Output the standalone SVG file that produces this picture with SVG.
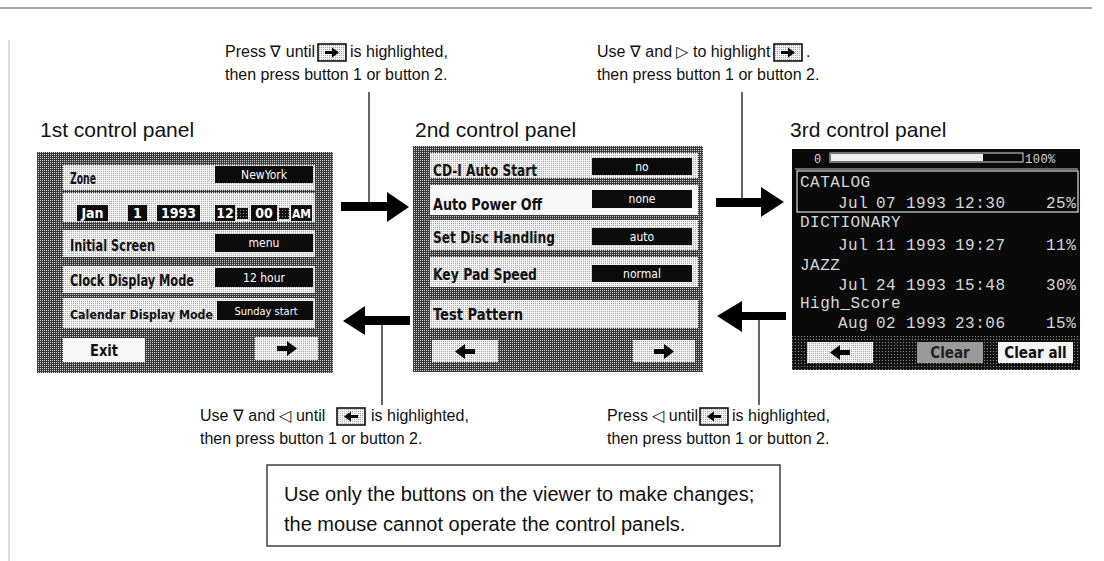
<svg xmlns="http://www.w3.org/2000/svg" width="1104" height="561" viewBox="0 0 1104 561">
<defs>
<pattern id="ht" width="2" height="2" patternUnits="userSpaceOnUse">
<rect width="2" height="2" fill="#3a3a3a"/>
<rect width="1" height="1" fill="#cfcfcf"/>
</pattern>
<pattern id="lt" width="2" height="2" patternUnits="userSpaceOnUse">
<rect width="2" height="2" fill="#f3f3f3"/>
<rect x="1" y="1" width="1" height="1" fill="#a8a8a8"/>
</pattern>
<pattern id="dk" width="3" height="3" patternUnits="userSpaceOnUse">
<rect width="3" height="3" fill="#141414"/>
<rect width="1" height="1" fill="#8a8a8a"/>
</pattern>
<g id="icoR">
<rect x="0" y="0" width="28" height="17" fill="url(#lt)" stroke="#000" stroke-width="1.5"/>
<polygon points="7,7 14,7 14,3.5 21,8.5 14,13.5 14,10 7,10" fill="#000"/>
</g>
<g id="icoL">
<rect x="0" y="0" width="28" height="17" fill="url(#lt)" stroke="#000" stroke-width="1.5"/>
<polygon points="21,7 14,7 14,3.5 7,8.5 14,13.5 14,10 21,10" fill="#000"/>
</g>
</defs>
<style>
.t{font-family:"Liberation Sans",Arial,sans-serif;font-size:16px;fill:#111}
.lbl{font-family:"Liberation Sans",Arial,sans-serif;font-size:21px;fill:#111}
.bx{font-family:"Liberation Sans",Arial,sans-serif;font-size:20px;fill:#111}
.pt{font-family:"DejaVu Sans Condensed","Liberation Sans",sans-serif;font-weight:bold;font-size:15px;fill:#111}
.pv{font-family:"DejaVu Sans Condensed","Liberation Sans",sans-serif;font-size:12px;fill:#fff;text-anchor:middle}
.pd{font-family:"DejaVu Sans Condensed","Liberation Sans",sans-serif;font-weight:bold;font-size:14px;fill:#fff;text-anchor:middle}
.mono{font-family:"Liberation Mono","DejaVu Sans Mono",monospace;font-size:16px;fill:#d8d8d8;letter-spacing:0.5px}
.ln{stroke:#111;stroke-width:1.3;fill:none}
.bar{fill:url(#lt)}
.val{fill:#0c0c0c}
.btn{fill:url(#lt)}
</style>

<line x1="0" y1="8" x2="1092" y2="8" stroke="#555" stroke-width="1"/>
<line x1="9" y1="40" x2="9" y2="561" stroke="#bbb" stroke-width="1"/>

<g id="note-top-left">
<text class="t" x="225" y="57">Press ∇ until</text>
<use href="#icoR" x="318" y="44"/>
<text class="t" x="350" y="57">is highlighted,</text>
<text class="t" x="225" y="80">then press button 1 or button 2.</text>
</g>

<g id="note-top-right">
<text class="t" x="597" y="57">Use ∇ and ▷ to highlight</text>
<use href="#icoR" x="774" y="44"/>
<text class="t" x="806" y="57">.</text>
<text class="t" x="597" y="80">then press button 1 or button 2.</text>
</g>

<g id="panel1">
<text class="lbl" x="40" y="137">1st control panel</text>
<rect x="37" y="152" width="296" height="221" fill="url(#ht)"/>
<rect class="bar" x="63" y="165" width="252" height="25"/>
<text class="pt" x="70" y="184" textLength="26" lengthAdjust="spacingAndGlyphs">Zone</text>
<rect class="val" x="215" y="166" width="98" height="17"/>
<text class="pv" x="264" y="179">NewYork</text>
<rect class="bar" x="63" y="193" width="252" height="29"/>
<rect class="val" x="77" y="205" width="31" height="16"/>
<text class="pd" x="92.5" y="218">Jan</text>
<rect class="val" x="128" y="205" width="19" height="16"/>
<text class="pd" x="137.5" y="218">1</text>
<rect class="val" x="157" y="205" width="43" height="16"/>
<text class="pd" x="178.5" y="218">1993</text>
<rect class="val" x="215" y="205" width="20" height="16"/>
<text class="pd" x="225" y="218">12</text>
<rect x="237" y="208" width="11" height="11" fill="url(#dk)"/>
<rect class="val" x="251" y="205" width="26" height="16"/>
<text class="pd" x="264" y="218">00</text>
<rect x="279" y="208" width="10" height="11" fill="url(#dk)"/>
<rect class="val" x="291" y="205" width="21" height="16"/>
<text class="pd" x="301.5" y="218" style="font-size:12px">AM</text>
<rect class="bar" x="63" y="230" width="252" height="27"/>
<text class="pt" x="70" y="251" textLength="85" lengthAdjust="spacingAndGlyphs">Initial Screen</text>
<rect class="val" x="215" y="234" width="98" height="18"/>
<text class="pv" x="264" y="247">menu</text>
<rect class="bar" x="63" y="266" width="252" height="27"/>
<text class="pt" x="70" y="286" textLength="124" lengthAdjust="spacingAndGlyphs">Clock Display Mode</text>
<rect class="val" x="215" y="268" width="98" height="19"/>
<text class="pv" x="264" y="282">12 hour</text>
<rect class="bar" x="63" y="298" width="252" height="30"/>
<text class="pt" x="70" y="319" style="font-size:13px" textLength="143" lengthAdjust="spacingAndGlyphs">Calendar Display Mode</text>
<rect class="val" x="217" y="301" width="96" height="19"/>
<text class="pv" x="266" y="315" style="font-size:11px">Sunday start</text>
<rect x="63" y="338" width="82" height="24" fill="#f6f6f6"/>
<text class="pt" x="90" y="356" textLength="28" lengthAdjust="spacingAndGlyphs">Exit</text>
<rect class="btn" x="255" y="337" width="63" height="23"/>
<polygon points="277,346 287,346 287,341 297,348.5 287,356 287,351 277,351" fill="#000"/>
</g>

<g id="panel2">
<text class="lbl" x="415" y="137">2nd control panel</text>
<rect x="413" y="146" width="290" height="226" fill="url(#ht)"/>
<rect class="bar" x="430" y="153" width="268" height="25"/>
<text class="pt" x="433" y="176" textLength="104" lengthAdjust="spacingAndGlyphs">CD-I Auto Start</text>
<rect class="val" x="592" y="158" width="100" height="17"/>
<text class="pv" x="642" y="171">no</text>
<rect x="430" y="185" width="268" height="30" fill="#f7f7f7"/>
<text class="pt" x="433" y="210" textLength="109" lengthAdjust="spacingAndGlyphs">Auto Power Off</text>
<rect class="val" x="592" y="190" width="100" height="18"/>
<text class="pv" x="642" y="203">none</text>
<rect class="bar" x="430" y="220" width="268" height="30"/>
<text class="pt" x="433" y="243" textLength="122" lengthAdjust="spacingAndGlyphs">Set Disc Handling</text>
<rect class="val" x="592" y="228" width="100" height="17"/>
<text class="pv" x="642" y="241">auto</text>
<rect class="bar" x="430" y="257" width="268" height="30"/>
<text class="pt" x="433" y="280" textLength="104" lengthAdjust="spacingAndGlyphs">Key Pad Speed</text>
<rect class="val" x="592" y="265" width="100" height="17"/>
<text class="pv" x="642" y="278">normal</text>
<rect class="bar" x="430" y="300" width="268" height="28"/>
<text class="pt" x="433" y="320" textLength="90" lengthAdjust="spacingAndGlyphs">Test Pattern</text>
<rect class="btn" x="432" y="340" width="66" height="22"/>
<polygon points="475,349 465,349 465,344 455,351.5 465,359 465,354 475,354" fill="#000"/>
<rect class="btn" x="633" y="340" width="62" height="22"/>
<polygon points="654,349 664,349 664,344 674,351.5 664,359 664,354 654,354" fill="#000"/>
</g>

<g id="panel3">
<text class="lbl" x="790" y="137">3rd control panel</text>
<rect x="792" y="149" width="288" height="221" fill="#0a0a0a"/>
<rect x="792" y="336" width="288" height="34" fill="url(#dk)"/>
<text class="mono" x="814" y="163" style="font-size:12px">0</text>
<rect x="830" y="153" width="193" height="9" fill="none" stroke="#ddd" stroke-width="1"/>
<rect x="831" y="154" width="152" height="7" fill="#eee"/>
<text class="mono" x="1025" y="163" style="font-size:12px">100%</text>
<line x1="795" y1="169" x2="1078" y2="169" stroke="#ccc" stroke-width="1.2"/>
<rect x="797" y="171" width="281" height="41" fill="none" stroke="#ddd" stroke-width="1.2"/>
<text class="mono" x="800" y="187">CATALOG</text>
<text class="mono" y="208"><tspan x="838">Jul</tspan><tspan x="876">07</tspan><tspan x="906">1993</tspan><tspan x="955">12:30</tspan><tspan x="1046">25%</tspan></text>
<text class="mono" x="800" y="227">DICTIONARY</text>
<text class="mono" y="250"><tspan x="838">Jul</tspan><tspan x="876">11</tspan><tspan x="906">1993</tspan><tspan x="955">19:27</tspan><tspan x="1046">11%</tspan></text>
<text class="mono" x="800" y="270">JAZZ</text>
<text class="mono" y="290"><tspan x="838">Jul</tspan><tspan x="876">24</tspan><tspan x="906">1993</tspan><tspan x="955">15:48</tspan><tspan x="1046">30%</tspan></text>
<text class="mono" x="800" y="308">High_Score</text>
<text class="mono" y="328"><tspan x="838">Aug</tspan><tspan x="876">02</tspan><tspan x="906">1993</tspan><tspan x="955">23:06</tspan><tspan x="1046">15%</tspan></text>
<rect class="btn" x="807" y="342" width="66" height="21"/>
<polygon points="850,350 840,350 840,345 830,352.5 840,360 840,355 850,355" fill="#000"/>
<rect x="917" y="342" width="66" height="21" fill="#9a9a9a"/>
<text class="pt" x="950" y="358" style="text-anchor:middle;fill:#222">Clear</text>
<rect x="998" y="342" width="75" height="21" fill="#f4f4f4"/>
<text class="pt" x="1035.5" y="358" style="text-anchor:middle">Clear all</text>
</g>

<g id="connectors">
<line class="ln" x1="369" y1="92" x2="369" y2="203"/>
<polygon points="341,202 387,202 387,192 409,207 387,222 387,211 341,211" fill="#000"/>
<line class="ln" x1="742" y1="92" x2="742" y2="199"/>
<polygon points="716,198 761,198 761,187 784,202 761,217 761,207 716,207" fill="#000"/>
<polygon points="410,316 365,316 365,306 343,321 365,335 365,325 410,325" fill="#000"/>
<line class="ln" x1="382" y1="324" x2="382" y2="405"/>
<polygon points="786,312 742,312 742,301 717,316 742,332 742,320 786,320" fill="#000"/>
<line class="ln" x1="759" y1="319" x2="759" y2="405"/>
</g>

<g id="note-bottom-left">
<text class="t" x="200" y="421">Use ∇ and ◁ until</text>
<use href="#icoL" x="337" y="408"/>
<text class="t" x="371" y="421">is highlighted,</text>
<text class="t" x="200" y="444">then press button 1 or button 2.</text>
</g>

<g id="note-bottom-right">
<text class="t" x="607" y="421">Press ◁ until</text>
<use href="#icoL" x="700" y="408"/>
<text class="t" x="732" y="421">is highlighted,</text>
<text class="t" x="607" y="444">then press button 1 or button 2.</text>
</g>

<g id="note-box">
<rect x="267" y="465" width="513" height="81" fill="none" stroke="#222" stroke-width="1.3"/>
<text class="bx" x="284" y="501">Use only the buttons on the viewer to make changes;</text>
<text class="bx" x="284" y="531">the mouse cannot operate the control panels.</text>
</g>
</svg>
